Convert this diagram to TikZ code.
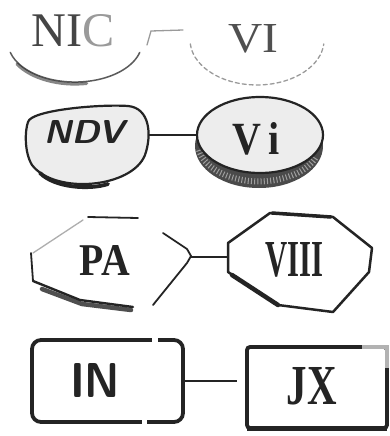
\documentclass[tikz,border=0pt]{standalone}
\usepackage{fontspec}
\usepackage{graphicx}
\usetikzlibrary{shapes.geometric}
\newfontfamily\woodserif{Liberation Serif}
% stretch a label to an exact width and cap height
\newcommand{\fitlabel}[3]{\resizebox{#1pt}{#2pt}{#3}}

\definecolor{ink}{HTML}{242424}
\definecolor{paleink}{HTML}{9A9A9A}
\definecolor{coinface}{HTML}{EDEDED}
\definecolor{coinedge}{HTML}{4A4A4A}

\begin{document}
\begin{tikzpicture}[x=1pt,y=-1pt,
  inkline/.style={draw=ink, line width=2.2pt, line cap=round, line join=round},
  faintline/.style={draw=paleink, line width=1.3pt, line cap=round},
  shapebox/.style={inner sep=0pt, outer sep=0pt},
  lbl/.style={inner sep=0pt, text=ink, font=\woodserif\bfseries},
  worn/.style={inner sep=0pt, font=\woodserif},
  conn/.style={draw=ink, line width=2.2pt},
]
\useasboundingbox (0,0) rectangle (390,436);
\fill[white] (0,0) rectangle (390,436);

% ---- row 1: two worn ovals ----
\node[shapebox, ellipse, minimum width=134pt, minimum height=80pt] (nic) at (75,42) {};
\node[shapebox, ellipse, minimum width=134pt, minimum height=90pt] (vi1) at (257,40) {};
\draw[inkline, draw=ink!75, line width=1.5pt] (10.3,52.4) arc[start angle=165, end angle=15, x radius=67, y radius=40];
\draw[ink, line width=3.2pt, line cap=round, opacity=0.55] (17,64) arc[start angle=150, end angle=80, x radius=67, y radius=40];
\draw[faintline, dash pattern=on 4pt off 3pt] (190.3,43.9) arc[start angle=175, end angle=5, x radius=67, y radius=45];
\draw[faintline] (nic.east) ++(5,3) -- ++(4,-14) -- ++(32,-1);
\node[worn, text=ink!85] (nict) at (73.5,31) {\fitlabel{83}{32}{NI\textcolor{paleink}{C}}};
\node[worn, text=ink!80] (vi1t) at (253,39) {\fitlabel{50}{28}{VI}};

% ---- row 2: bowl and coin ----
\node[shapebox, ellipse, minimum width=122pt, minimum height=82pt] (ndv) at (87,146) {};
\draw[inkline, fill=coinface] (28,122) .. controls (31,110) and (100,104) .. (128,106)
  .. controls (150,108) and (152,135) .. (145,155)
  .. controls (132,188) and (55,195) .. (32,165)
  .. controls (24,152) and (25,130) .. (28,122) -- cycle;
\draw[ink, line width=3.8pt, line cap=round] (40,173) .. controls (55,188) and (90,190) .. (108,184);
\fill[coinedge] (259,146) ellipse [x radius=64, y radius=42];
\draw[gray!75, line width=6pt, dash pattern=on 1pt off 2.2pt] (199,150) arc[start angle=170, end angle=20, x radius=61, y radius=38];
\node[shapebox, ellipse, draw=ink, line width=2.2pt, fill=coinface, minimum width=126pt, minimum height=76pt] (vi2) at (260,135) {};
\draw[conn] (vi2.west) -- (ndv.east |- vi2.west);
\node[lbl] (ndvt) at (84,131.5) {\fitlabel{80}{23}{\sffamily\bfseries\itshape NDV}};
\node[lbl] (vi2t) at (256,139) {\fitlabel{48}{32}{V\kern2pt i}};

% ---- row 3: octagons ----
\node[shapebox, minimum width=160pt, minimum height=92pt] (pa) at (111,257) {};
\node[shapebox, minimum width=150pt, minimum height=100pt] (viii) at (303,257) {};
\draw[inkline, line width=1.8pt] (88,217) -- (138,218);
\draw[faintline, draw=paleink!80] (33,253) -- (83,220);
\draw[inkline, line width=1.8pt] (31,253) -- (33,281);
\draw[inkline, line width=2.4pt] (33,281) -- (80,300) -- (133,307);
\draw[ink, line width=4.5pt, line cap=round, opacity=0.8] (42,289) -- (82,304) -- (131,310);
\draw[inkline, line width=1.8pt] (163,233) -- (187,249) -- (191,256) -- (187,263) -- (153,305);
\draw[inkline, line width=2.5pt] (270,213) -- (333,217) -- (372,248) -- (369,272) -- (333,312) -- (278,305) -- (228,272) -- (228,243) -- cycle;
\draw[inkline, line width=3.5pt] (272,213) -- (331,217);
\draw[inkline, line width=4.5pt] (278,305) -- (232,275);
\draw[conn] (pa.east) -- (viii.west);
\node[lbl] (pat) at (105,260) {\fitlabel{50}{30}{PA}};
\node[lbl] (viiit) at (294,260) {\fitlabel{58}{34}{VIII}};

% ---- row 4: rectangles ----
\node[shapebox, rectangle, rounded corners=9pt, draw=ink, line width=3.8pt, minimum width=151pt, minimum height=82pt] (in) at (107.5,381) {};
\fill[white] (152,334) rectangle (158,347);
\fill[white] (142,415) rectangle (147,428);
\node[shapebox, rectangle, rounded corners=3pt, draw=ink, line width=3.8pt, minimum width=140pt, minimum height=81pt] (jx) at (317,387.5) {};
\draw[ink, line width=5pt] (jx.south west) -- (jx.south east);
\draw[gray!60, line width=3.8pt] (362,347) -- (387,347) -- (387,368);
\draw[conn, shorten >=10pt] (in.east) -- (jx.west |- in.east);
\node[lbl] (int) at (95,380) {\fitlabel{50}{34}{\sffamily\bfseries IN}};
\node[lbl] (jxt) at (312,386.5) {\fitlabel{50}{37}{JX}};
\end{tikzpicture}
\end{document}
